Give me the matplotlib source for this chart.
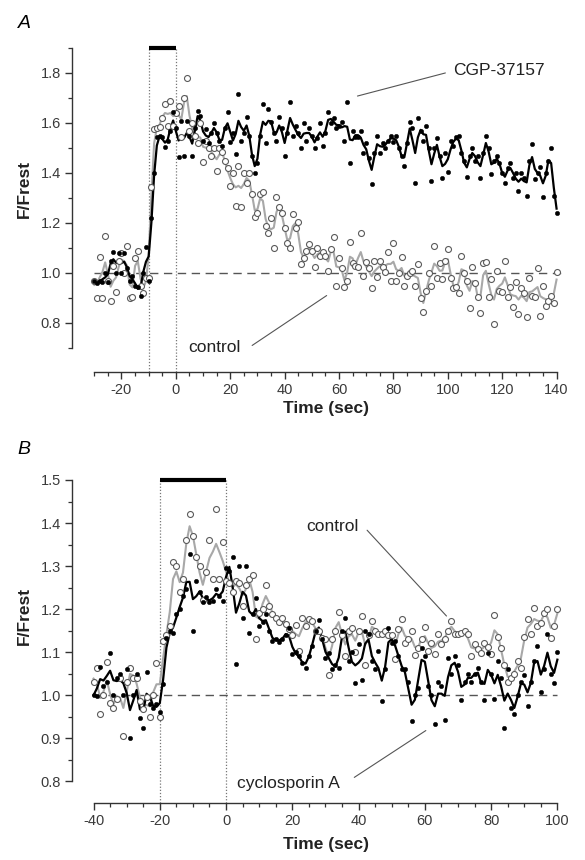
import numpy as np
import pandas as pd
import matplotlib
matplotlib.use("Agg")
import matplotlib.pyplot as plt

plt.rcParams['font.family'] = ['Liberation Sans', 'DejaVu Sans']

# ---------------- Panel A data (1 s sampling, -30..140 s) ----------------
time_a = list(range(-30, 141))
control_a = [
    0.97, 0.90, 1.065, 0.90, 1.15, 0.97, 0.89, 1.03, 0.925, 1.05,      # -30..-21
    1.08, 1.00, 1.11, 0.90, 0.905, 1.06, 1.09, 0.95, 0.92, 0.98,       # -20..-11
    0.98, 1.345, 1.575, 1.58, 1.585, 1.62, 1.675, 1.59, 1.69, 1.59,    # -10..-1
    1.64, 1.67, 1.545, 1.70, 1.78, 1.57, 1.60, 1.55, 1.52, 1.60,       # 0..9
    1.445, 1.53, 1.50, 1.47, 1.50, 1.41, 1.50, 1.485, 1.45, 1.42,      # 10..19
    1.35, 1.40, 1.27, 1.43, 1.265, 1.40, 1.36, 1.40, 1.315, 1.225,     # 20..29
    1.24, 1.315, 1.325, 1.19, 1.16, 1.22, 1.10, 1.305, 1.265, 1.24,    # 30..39
    1.18, 1.12, 1.10, 1.235, 1.18, 1.205, 1.035, 1.06, 1.09, 1.115,    # 40..49
    1.09, 1.025, 1.10, 1.07, 1.085, 1.07, 1.01, 1.095, 1.145, 0.95,    # 50..59
    1.06, 1.02, 0.945, 0.97, 1.125, 1.04, 1.03, 1.025, 1.16, 0.99,     # 60..69
    1.045, 1.02, 0.94, 1.05, 0.985, 1.05, 1.025, 1.005, 1.085, 0.97,   # 70..79
    1.12, 0.97, 1.00, 1.065, 0.95, 0.99, 1.00, 1.01, 0.95, 1.035,      # 80..89
    0.90, 0.845, 0.93, 1.00, 0.95, 1.11, 0.98, 1.04, 0.975, 1.05,      # 90..99
    1.095, 0.98, 0.94, 0.945, 0.92, 1.07, 1.00, 0.97, 0.86, 1.025,     # 100..109
    0.96, 0.905, 0.84, 1.04, 1.045, 0.905, 0.975, 0.795, 1.01, 0.93,   # 110..119
    0.925, 1.05, 0.905, 0.945, 0.865, 0.965, 0.835, 0.94, 0.92, 0.825, # 120..129
    0.98, 0.91, 0.905, 1.02, 0.83, 0.95, 0.87, 0.89, 0.91, 0.88,       # 130..139
    1.005,                                                             # 140
]
cgp_a = [
    0.97, 0.96, 0.97, 0.965, 1.00, 0.965, 1.05, 1.085, 1.00, 1.08,     # -30..-21
    1.00, 1.08, 1.02, 0.97, 0.99, 0.95, 0.945, 0.91, 1.00, 1.105,      # -20..-11
    0.97, 1.22, 1.40, 1.545, 1.55, 1.545, 1.505, 1.53, 1.57, 1.645,    # -10..-1
    1.58, 1.465, 1.61, 1.47, 1.61, 1.55, 1.47, 1.58, 1.65, 1.63,       # 0..9
    1.53, 1.575, 1.52, 1.56, 1.60, 1.56, 1.53, 1.51, 1.58, 1.645,      # 10..19
    1.525, 1.56, 1.475, 1.715, 1.53, 1.56, 1.625, 1.55, 1.47, 1.40,    # 20..29
    1.44, 1.55, 1.675, 1.52, 1.655, 1.605, 1.56, 1.53, 1.625, 1.58,    # 30..39
    1.47, 1.56, 1.685, 1.55, 1.59, 1.56, 1.50, 1.60, 1.53, 1.58,       # 40..49
    1.55, 1.50, 1.54, 1.60, 1.51, 1.56, 1.645, 1.60, 1.62, 1.58,       # 50..59
    1.59, 1.605, 1.53, 1.685, 1.44, 1.57, 1.545, 1.545, 1.57, 1.48,    # 60..69
    1.52, 1.46, 1.355, 1.48, 1.55, 1.48, 1.52, 1.50, 1.53, 1.55,       # 70..79
    1.525, 1.55, 1.50, 1.47, 1.43, 1.52, 1.605, 1.58, 1.36, 1.62,      # 80..89
    1.57, 1.53, 1.59, 1.50, 1.37, 1.50, 1.54, 1.47, 1.38, 1.48,        # 90..99
    1.405, 1.53, 1.51, 1.545, 1.55, 1.48, 1.45, 1.385, 1.47, 1.50,     # 100..109
    1.45, 1.47, 1.38, 1.48, 1.55, 1.50, 1.395, 1.45, 1.47, 1.44,       # 110..119
    1.40, 1.36, 1.42, 1.44, 1.38, 1.40, 1.33, 1.40, 1.38, 1.31,        # 120..129
    1.45, 1.515, 1.375, 1.40, 1.425, 1.305, 1.40, 1.45, 1.50, 1.31,    # 130..139
    1.24,                                                              # 140
]

# ---------------- Panel B data (1 s sampling, -40..100 s) ----------------
time_b = list(range(-40, 101))
control_b = [
    1.03, 1.063, 0.955, 1.00, 1.077, 0.982, 0.97, 0.99, 1.04, 0.905,   # -40..-31
    1.03, 1.063, 1.04, 1.04, 0.986, 0.967, 0.995, 0.95, 1.00, 1.075,   # -30..-21
    0.95, 1.126, 1.14, 1.16, 1.31, 1.30, 1.24, 1.27, 1.36, 1.42,       # -20..-11
    1.37, 1.32, 1.30, 1.22, 1.285, 1.36, 1.27, 1.433, 1.27, 1.356,     # -10..-1
    1.265, 1.26, 1.24, 1.265, 1.26, 1.207, 1.255, 1.27, 1.28, 1.13,    # 0..9
    1.19, 1.20, 1.257, 1.207, 1.188, 1.18, 1.17, 1.18, 1.165, 1.153,   # 10..19
    1.14, 1.163, 1.102, 1.18, 1.16, 1.176, 1.172, 1.15, 1.149, 1.133,  # 20..29
    1.13, 1.047, 1.13, 1.15, 1.194, 1.14, 1.09, 1.15, 1.157, 1.10,     # 30..39
    1.149, 1.184, 1.071, 1.14, 1.172, 1.15, 1.143, 1.141, 1.15, 1.14,  # 40..49
    1.14, 1.083, 1.153, 1.176, 1.122, 1.13, 1.15, 1.093, 1.11, 1.13,   # 50..59
    1.158, 1.102, 1.12, 1.096, 1.141, 1.118, 1.13, 1.15, 1.172, 1.141, # 60..69
    1.141, 1.145, 1.15, 1.143, 1.091, 1.118, 1.106, 1.098, 1.12, 1.112,# 70..79
    1.095, 1.186, 1.135, 1.11, 1.07, 1.03, 1.04, 1.05, 1.08, 1.064,    # 80..89
    1.135, 1.176, 1.141, 1.203, 1.16, 1.168, 1.19, 1.20, 1.133, 1.16,  # 90..99
    1.20,                                                              # 100
]
cyclo_b = [
    1.00, 0.998, 1.065, 1.02, 1.03, 1.098, 1.00, 1.04, 1.05, 1.00,     # -40..-31
    1.06, 0.90, 1.00, 1.05, 0.947, 0.924, 1.054, 0.98, 0.97, 0.98,     # -30..-21
    0.96, 1.025, 1.133, 1.15, 1.145, 1.188, 1.20, 1.23, 1.246, 1.329,  # -20..-11
    1.149, 1.265, 1.24, 1.217, 1.228, 1.217, 1.219, 1.246, 1.23, 1.219,# -10..-1
    1.296, 1.288, 1.32, 1.073, 1.30, 1.18, 1.30, 1.145, 1.188, 1.226,  # 0..9
    1.16, 1.17, 1.188, 1.15, 1.126, 1.13, 1.124, 1.13, 1.14, 1.157,    # 10..19
    1.096, 1.10, 1.091, 1.075, 1.064, 1.09, 1.114, 1.15, 1.174, 1.13,  # 20..29
    1.087, 1.098, 1.06, 1.07, 1.064, 1.149, 1.18, 1.08, 1.10, 1.029,   # 30..39
    1.118, 1.036, 1.15, 1.143, 1.08, 1.06, 1.102, 0.986, 1.06, 1.155,  # 40..49
    1.12, 1.126, 1.09, 1.06, 1.06, 1.03, 0.94, 1.00, 1.017, 1.11,      # 50..59
    1.09, 1.02, 1.00, 0.933, 1.03, 1.02, 0.943, 1.087, 1.05, 1.09,     # 60..69
    1.07, 0.988, 1.03, 1.05, 1.03, 1.05, 1.064, 1.03, 0.988, 1.098,    # 70..79
    1.05, 0.99, 1.079, 1.04, 0.924, 1.06, 0.97, 0.955, 1.00, 1.03,     # 80..89
    1.047, 0.974, 1.03, 1.08, 1.114, 1.008, 1.06, 1.143, 1.048, 1.029, # 90..99
    1.10,                                                              # 100
]

yticks_a = [0.8, 1.0, 1.2, 1.4, 1.6, 1.8]
xticks_a = [-20, 0, 20, 40, 60, 80, 100, 120, 140]
yticks_b = [0.8, 0.9, 1.0, 1.1, 1.2, 1.3, 1.4, 1.5]
xticks_b = [-40, -20, 0, 20, 40, 60, 80, 100]


def smooth(vals):
    # weighted 3-point running average of the measured points
    s = pd.Series(vals, dtype=float)
    prev = s.shift(1).fillna(s)
    nxt = s.shift(-1).fillna(s)
    return (0.25 * prev + 0.5 * s + 0.25 * nxt).values


W, H = 585, 860
fig = plt.figure(figsize=(W / 100, H / 100), dpi=100)


def px_axes(left, top, right, bottom):
    return fig.add_axes([left / W, 1 - bottom / H, (right - left) / W, (bottom - top) / H])


GRAY_LINE = '#a8a8a8'
GRAY_EDGE = '#5a5a5a'
AX_COL = '#333333'
TICK_FS = 10.5


def style_axes(ax, xb, yb, xmaj, xmin, ymaj, ymin, yfmt):
    for s in ['top', 'right']:
        ax.spines[s].set_visible(False)
    for s in ['left', 'bottom']:
        ax.spines[s].set_color(AX_COL)
        ax.spines[s].set_linewidth(1.0)
    ax.spines['left'].set_bounds(*yb)
    ax.spines['bottom'].set_bounds(*xb)
    ax.set_xticks(xmaj)
    ax.set_xticks(xmin, minor=True)
    ax.set_yticks(ymaj)
    ax.set_yticks(ymin, minor=True)
    ax.set_yticklabels([yfmt % v for v in ymaj])
    ax.set_xticklabels([str(v) for v in xmaj])
    ax.tick_params(which='major', length=5, width=1.0, color=AX_COL, labelsize=TICK_FS,
                   labelcolor='#3a3a3a', pad=3)
    ax.tick_params(which='minor', length=3, width=0.9, color=AX_COL)


def draw_panel(ax, t, ctrl, drug, bar_x0, bar_top):
    ax.plot(t, smooth(ctrl), color=GRAY_LINE, lw=1.5, zorder=3)
    ax.plot(t, smooth(drug), color='black', lw=1.6, zorder=4)
    ax.plot(t, ctrl, linestyle='none', marker='o', ms=4.3, mfc='white', mec=GRAY_EDGE,
            mew=0.8, zorder=5)
    ax.plot(t, drug, linestyle='none', marker='o', ms=3.2, mfc='black', mec='black',
            mew=0.3, zorder=6)
    ax.plot([bar_x0, 0], [bar_top, bar_top], color='black', lw=3, solid_capstyle='butt',
            zorder=7, clip_on=False)
    for xv in (bar_x0, 0):
        ax.axvline(xv, ymax=1.0, color='#777777', lw=0.9, ls=(0, (1, 1.5)), zorder=1)


# ---------------- Panel A ----------------
axA = px_axes(72, 48, 562, 372)
axA.set_xlim(-38.2, 142)
axA.set_ylim(0.604, 1.9)
axA.plot([-30, 142], [1.0, 1.0], color='#555555', lw=1.0, ls=(0, (6, 4)), zorder=1)
draw_panel(axA, time_a, control_a, cgp_a, -10, 1.9)
style_axes(axA, (-30, 140), (0.7, 1.9), xticks_a, list(range(-30, 141, 5)),
           yticks_a, [0.7, 0.9, 1.1, 1.3, 1.5, 1.7, 1.9], '%.1f')
axA.annotate('', xy=(65.8, 1.705), xytext=(100.1, 1.803),
             arrowprops=dict(arrowstyle='-', color='#555555', lw=0.8))
axA.text(102, 1.81, 'CGP-37157', fontsize=12.5, ha='left', va='center', color='#222222')
axA.annotate('', xy=(56.3, 0.916), xytext=(27.2, 0.704),
             arrowprops=dict(arrowstyle='-', color='#555555', lw=0.8), annotation_clip=False)
axA.text(4.4, 0.70, 'control', fontsize=12.5, ha='left', va='center', color='#222222')

# ---------------- Panel B ----------------
axB = px_axes(72, 480, 564, 803)
axB.set_xlim(-46.5, 102)
axB.set_ylim(0.749, 1.5)
axB.plot([-40, 100], [1.0, 1.0], color='#555555', lw=1.0, ls=(0, (6, 4)), zorder=1)
draw_panel(axB, time_b, control_b, cyclo_b, -20, 1.5)
style_axes(axB, (-40, 100), (0.8, 1.5), xticks_b, list(range(-40, 101, 5)),
           yticks_b, [0.85, 0.95, 1.05, 1.15, 1.25, 1.35, 1.45], '%.1f')
axB.annotate('', xy=(67.1, 1.179), xytext=(42, 1.388),
             arrowprops=dict(arrowstyle='-', color='#555555', lw=0.8))
axB.text(24.2, 1.393, 'control', fontsize=12.5, ha='left', va='center', color='#222222')
axB.annotate('', xy=(61, 0.921), xytext=(38, 0.805),
             arrowprops=dict(arrowstyle='-', color='#555555', lw=0.8))
axB.text(3.3, 0.795, 'cyclosporin A', fontsize=12.5, ha='left', va='center', color='#222222')

# ---------------- Labels ----------------
fig.text(24 / W, 1 - 24 / H, 'A', fontsize=14, style='italic', ha='center', va='center')
fig.text(24 / W, 1 - 449 / H, 'B', fontsize=14, style='italic', ha='center', va='center')
fig.text(24 / W, 1 - 189 / H, 'F/Frest', fontsize=12.5, fontweight='bold', rotation=90,
         ha='center', va='center', color='#222222')
fig.text(24 / W, 1 - 616 / H, 'F/Frest', fontsize=12.5, fontweight='bold', rotation=90,
         ha='center', va='center', color='#222222')
fig.text(326 / W, 1 - 408 / H, 'Time (sec)', fontsize=12.5, fontweight='bold',
         ha='center', va='center', color='#222222')
fig.text(326 / W, 1 - 845 / H, 'Time (sec)', fontsize=12.5, fontweight='bold',
         ha='center', va='center', color='#222222')

fig.savefig('out.png', dpi=100)
